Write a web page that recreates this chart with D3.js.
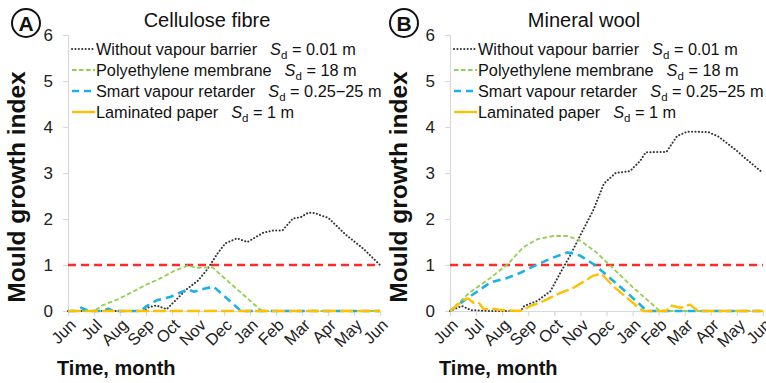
<!DOCTYPE html>
<html><head><meta charset="utf-8">
<script src="https://cdn.jsdelivr.net/npm/d3@7"></script>
<style>
body{margin:0;background:#fff;}
svg{font-family:"Liberation Sans",Arial,sans-serif;}
</style></head>
<body><svg id="c" width="766" height="383"></svg>
<script>
const months = ["Jun","Jul","Aug","Sep","Oct","Nov","Dec","Jan","Feb","Mar","Apr","May","Jun"];
const yTicks = [0,1,2,3,4,5,6];
const threshold = 1;
const legendNames = ["Without vapour barrier","Polyethylene membrane","Smart vapour retarder","Laminated paper"];
const legendSd = ["0.01 m","18 m","0.25\u221225 m","1 m"];
const panelTitles = ["Cellulose fibre","Mineral wool"];
const panelLetters = ["A","B"];

// Cellulose fibre: [month index, mould index]
const cellWithout = [[0,0],[2.9,0],[3.1,0.08],[3.4,0.12],[3.8,0.04],[4.15,0.24],[4.6,0.49],[5.0,0.66],[5.35,0.9],[5.75,1.25],[6.05,1.47],[6.5,1.58],[6.9,1.5],[7.5,1.7],[7.9,1.75],[8.25,1.75],[8.65,2.01],[8.95,2.04],[9.25,2.14],[9.5,2.13],[9.75,2.07],[10.0,2.03],[10.7,1.65],[11.35,1.36],[12,1.0]];
const cellPoly = [[0,0],[1.0,0],[1.35,0.13],[1.9,0.25],[2.5,0.42],[3.0,0.57],[3.55,0.71],[4.05,0.86],[4.6,0.99],[4.95,0.94],[5.55,0.95],[7.45,0],[12,0]];
const cellSmart = [[0,0],[0.3,0],[0.5,0.07],[0.8,0],[1.35,0],[1.55,0.05],[1.75,0],[2.8,0],[3.0,0.1],[3.45,0.24],[3.95,0.31],[4.6,0.47],[4.85,0.42],[5.2,0.48],[5.6,0.53],[6.1,0.28],[6.65,0],[12,0]];
const cellPaper = [[0,0],[12,0]];

// Mineral wool
const mwWithout = [[0,0],[0.45,0.11],[0.8,0.02],[1.5,0],[2.7,0],[2.85,0.11],[3.35,0.22],[3.85,0.43],[4.2,0.8],[4.6,1.2],[5.0,1.65],[5.5,2.2],[5.9,2.77],[6.35,3.0],[6.9,3.04],[7.3,3.27],[7.5,3.45],[8.3,3.46],[8.7,3.8],[9.1,3.9],[9.9,3.89],[10.3,3.79],[11.0,3.48],[11.3,3.33],[12,3.0]];
const mwPoly = [[0,0],[0.75,0.4],[1.55,0.72],[2.2,1.01],[2.8,1.38],[3.35,1.56],[3.95,1.63],[4.5,1.63],[5.0,1.53],[5.6,1.28],[6.1,1.01],[7.0,0.52],[8.05,0],[12,0]];
const mwSmart = [[0,0],[0.6,0.25],[1.55,0.62],[2.2,0.72],[2.7,0.83],[3.35,1.01],[3.95,1.16],[4.5,1.27],[4.75,1.25],[5.0,1.2],[5.55,1.0],[6.25,0.66],[6.9,0.34],[7.55,0],[12,0]];
const mwPaper = [[0,0],[0.55,0.25],[0.7,0.27],[0.9,0.18],[1.1,0.18],[1.3,0.04],[1.6,0.05],[2.0,0.02],[2.7,0],[3.1,0.11],[3.6,0.22],[4.1,0.36],[4.75,0.51],[5.5,0.77],[5.8,0.81],[6.3,0.52],[6.9,0.23],[7.4,0],[8.3,0],[8.45,0.12],[8.85,0.07],[9.2,0.14],[9.5,0],[12,0]];

const styles = [
  {color:"#333333", width:2, dash:"0.1 3.3", cap:"round"},
  {color:"#92d050", width:1.8, dash:"4.5 2.5", cap:"butt"},
  {color:"#1cb0e8", width:2.6, dash:"8 5", cap:"butt"},
  {color:"#ffc000", width:2.4, dash:"13 4", cap:"butt"}
];
const legendDash = ["0.1 3.3","4.5 2.5","7 5","none"];

const panels = [
  {x0:68, x1:380, circleX:26, titleX:207, series:[cellWithout,cellPoly,cellSmart,cellPaper]},
  {x0:450, x1:763, circleX:404, titleX:584, series:[mwWithout,mwPoly,mwSmart,mwPaper]}
];

const svg = d3.select("#c");
const axisColor = "#d9d9d9";

panels.forEach((p,pi)=>{
  const x = d3.scaleLinear().domain([0,12]).range([p.x0,p.x1]);
  const y = d3.scaleLinear().domain([0,6]).range([311,35]);
  const g = svg.append("g");

  // y axis
  const ya = g.append("g").attr("transform",`translate(${p.x0},0)`)
    .call(d3.axisLeft(y).tickValues(yTicks).tickFormat(d3.format("d")).tickSize(5).tickPadding(10));
  ya.select(".domain").attr("stroke",axisColor).attr("stroke-width",1.2);
  ya.selectAll(".tick line").attr("stroke",axisColor).attr("stroke-width",1.2);
  ya.selectAll(".tick text").attr("font-size",17).attr("fill","#222").attr("font-family","Liberation Sans, Arial, sans-serif");

  // x axis
  const xa = g.append("g").attr("transform",`translate(0,311)`)
    .call(d3.axisBottom(x).tickValues(d3.range(13)).tickSize(5).tickFormat(""));
  xa.select(".domain").attr("stroke",axisColor).attr("stroke-width",1.2);
  xa.selectAll(".tick line").attr("stroke",axisColor).attr("stroke-width",1.2);
  g.selectAll(".mlab").data(months).enter().append("text")
    .attr("transform",(d,i)=>`translate(${x(i)+5},${322}) rotate(-45)`)
    .attr("text-anchor","end").attr("dy","0.35em")
    .attr("font-size",16.5).attr("fill","#222").text(d=>d);

  // threshold
  g.append("line").attr("x1",p.x0).attr("x2",p.x1).attr("y1",y(threshold)).attr("y2",y(threshold))
    .attr("stroke","#ff2a2a").attr("stroke-width",2.6).attr("stroke-dasharray","8 5");

  const line = d3.line().x(d=>x(d[0])).y(d=>y(d[1]));
  p.series.forEach((s,si)=>{
    const st = styles[si];
    g.append("path").datum(s).attr("d",line).attr("fill","none")
      .attr("stroke",st.color).attr("stroke-width",st.width)
      .attr("stroke-dasharray",st.dash).attr("stroke-linecap",st.cap).attr("stroke-linejoin","round");
  });

  // legend
  const lx = p.x0 + 4;
  const rowsY = [49,70,91,112];
  legendNames.forEach((nm,i)=>{
    const st = styles[i];
    g.append("line").attr("x1",lx).attr("x2",lx+23).attr("y1",rowsY[i]).attr("y2",rowsY[i])
      .attr("stroke",st.color).attr("stroke-width",i===0?2:st.width)
      .attr("stroke-dasharray",legendDash[i]).attr("stroke-linecap",i===0?"round":"butt");
    const t = g.append("text").attr("x",lx+24).attr("y",rowsY[i]).attr("dy","0.35em")
      .attr("font-size",16.3).attr("fill","#111");
    t.append("tspan").text(nm);
    t.append("tspan").attr("dx",13).attr("font-style","italic").text("S");
    t.append("tspan").attr("font-size",11.5).attr("dy",4).text("d");
    t.append("tspan").attr("dy",-4).text(" = " + legendSd[i]);
  });

  // title
  g.append("text").attr("x",p.titleX).attr("y",27).attr("text-anchor","middle")
    .attr("font-size",20).attr("fill","#111").text(panelTitles[pi]);

  // circled letter
  g.append("circle").attr("cx",p.circleX).attr("cy",23).attr("r",14).attr("fill","none")
    .attr("stroke","#111").attr("stroke-width",2);
  g.append("text").attr("x",p.circleX).attr("y",23).attr("dy","0.36em").attr("text-anchor","middle")
    .attr("font-size",21).attr("font-weight","bold").attr("fill","#111").text(panelLetters[pi]);

  // axis titles
  g.append("text").attr("transform",`translate(${p.x0-43},${187}) rotate(-90)`)
    .attr("text-anchor","middle").attr("font-size",24.5).attr("font-weight","bold").attr("fill","#111")
    .text("Mould growth index");
  g.append("text").attr("x",p.x0-11).attr("y",375)
    .attr("font-size",20).attr("font-weight","bold").attr("fill","#111").text("Time, month");
});
</script></body></html>
